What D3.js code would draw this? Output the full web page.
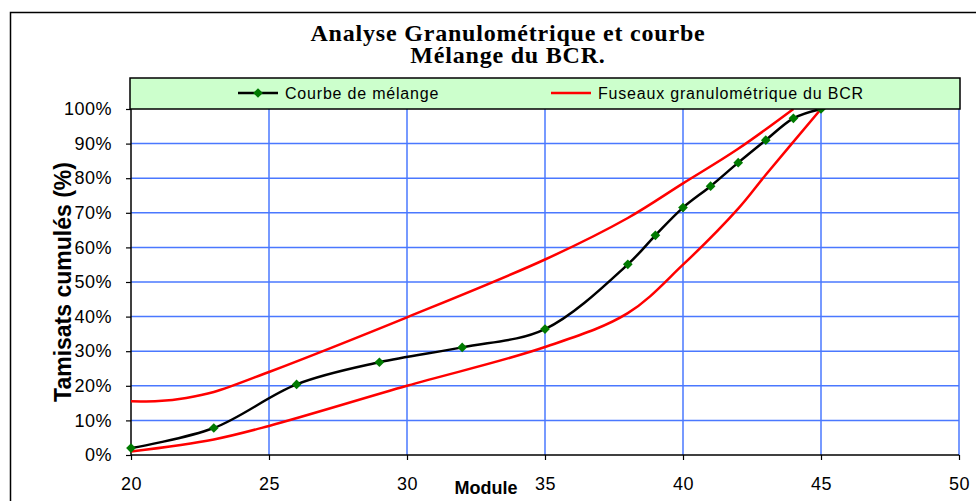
<!DOCTYPE html>
<html>
<head>
<meta charset="utf-8">
<script src="https://cdn.jsdelivr.net/npm/d3@7"></script>
<style>
  body { margin: 0; background: #fff; }
  svg { display: block; }
</style>
</head>
<body>
<div id="chart"></div>
<script>
// curve values (module, % passing)
const melangeX = [20, 23, 26, 29, 32, 35, 38, 39, 40, 41, 42, 43, 44, 45];
const melangeY = [0.02, 0.078, 0.204, 0.268, 0.311, 0.364, 0.551, 0.635, 0.715, 0.777, 0.845, 0.91, 0.973, 1.0];

const fuseauHautX = [20, 21, 22, 23, 25, 30, 35, 38, 40, 42, 44];
const fuseauHautY = [0.155, 0.156, 0.165, 0.182, 0.24, 0.398, 0.565, 0.685, 0.785, 0.885, 1.0];

const fuseauBasX = [20, 23, 25, 30, 35, 38, 40, 42, 43, 45];
const fuseauBasY = [0.01, 0.045, 0.084, 0.2, 0.312, 0.41, 0.55, 0.712, 0.81, 1.0];

const xTicks = [20, 25, 30, 35, 40, 45, 50];
const yTicks = [0, 0.1, 0.2, 0.3, 0.4, 0.5, 0.6, 0.7, 0.8, 0.9, 1.0];

const titleLines = ["Analyse Granulométrique et courbe", "Mélange du BCR."];
const legendLabels = ["Courbe de mélange", "Fuseaux granulométrique du BCR"];

const width = 976, height = 501;
const gridColor = "#4a78ff";

const svg = d3.select("#chart")
    .append("svg")
    .attr("width", width)
    .attr("height", height);

// outer chart frame
svg.append("rect")
    .attr("x", 10.5).attr("y", 12.5)
    .attr("width", 990).attr("height", 520)
    .attr("fill", "#fff")
    .attr("stroke", "#000")
    .attr("stroke-width", 1.5);

const x = d3.scaleLinear().domain([20, 50]).range([131, 959]);
const y = d3.scaleLinear().domain([0, 1]).range([455, 109]);

// grid
svg.append("g")
    .selectAll("line.h")
    .data(yTicks.filter(d => d > 0 && d < 1))
    .join("line")
    .attr("x1", x(20)).attr("x2", x(50))
    .attr("y1", d => y(d)).attr("y2", d => y(d))
    .attr("stroke", gridColor).attr("stroke-width", 1.5);

svg.append("g")
    .selectAll("line.v")
    .data(xTicks.filter(d => d > 20))
    .join("line")
    .attr("x1", d => x(d)).attr("x2", d => x(d))
    .attr("y1", y(1)).attr("y2", y(0))
    .attr("stroke", gridColor).attr("stroke-width", 1.5);

// axes
const yAxis = svg.append("g")
    .attr("transform", `translate(${x(20)},0)`)
    .call(d3.axisLeft(y).tickValues(yTicks).tickFormat(d3.format(".0%")).tickSize(5).tickPadding(14));

const xAxis = svg.append("g")
    .attr("transform", `translate(0,${y(0)})`)
    .call(d3.axisBottom(x).tickValues(xTicks).tickSize(5).tickPadding(17));

[yAxis, xAxis].forEach(a => {
    a.select(".domain").attr("stroke", "#000").attr("stroke-width", 1.5);
    a.selectAll(".tick line").attr("stroke", "#000").attr("stroke-width", 1.2);
    a.selectAll("text")
        .attr("fill", "#000")
        .style("font-family", "Arial, 'Liberation Sans', sans-serif")
        .style("font-size", "18px")
        .style("letter-spacing", "0.5px");
});
yAxis.select(".domain").attr("d", `M0,${y(0)}V${y(1)}`);
xAxis.select(".domain").attr("d", `M${x(20)},0H${x(50)}`);

// curves
const line = (xs, ys) => d3.line()
    .x((d, i) => x(xs[i]))
    .y((d, i) => y(ys[i]))
    .curve(d3.curveCatmullRom.alpha(0.5))(xs);

svg.append("path")
    .attr("d", line(fuseauHautX, fuseauHautY))
    .attr("fill", "none").attr("stroke", "#ff0000").attr("stroke-width", 2.5);

svg.append("path")
    .attr("d", line(fuseauBasX, fuseauBasY))
    .attr("fill", "none").attr("stroke", "#ff0000").attr("stroke-width", 2.5);

svg.append("path")
    .attr("d", line(melangeX, melangeY))
    .attr("fill", "none").attr("stroke", "#000").attr("stroke-width", 2.5);

const diamond = d3.symbol().type(d3.symbolDiamond2).size(60);

svg.append("g")
    .selectAll("path")
    .data(melangeX)
    .join("path")
    .attr("d", diamond)
    .attr("transform", (d, i) => `translate(${x(d)},${y(melangeY[i])})`)
    .attr("fill", "#007a00");

// legend
svg.append("rect")
    .attr("x", 130).attr("y", 78)
    .attr("width", 830).attr("height", 31)
    .attr("fill", "#ccffcc")
    .attr("stroke", "#000").attr("stroke-width", 1.5);

const legend = svg.append("g").attr("transform", "translate(0,93)");

legend.append("line")
    .attr("x1", 238).attr("x2", 278)
    .attr("stroke", "#000").attr("stroke-width", 2.5);
legend.append("path")
    .attr("d", diamond)
    .attr("transform", "translate(258,0)")
    .attr("fill", "#007a00");
legend.append("line")
    .attr("x1", 551).attr("x2", 591)
    .attr("stroke", "#ff0000").attr("stroke-width", 2.5);

legend.selectAll("text")
    .data(legendLabels)
    .join("text")
    .attr("x", (d, i) => i === 0 ? 285 : 598)
    .attr("y", 6)
    .style("font-family", "Arial, 'Liberation Sans', sans-serif")
    .style("font-size", "16px")
    .style("letter-spacing", "0.8px")
    .text(d => d);

// title
svg.append("g")
    .selectAll("text")
    .data(titleLines)
    .join("text")
    .attr("x", 508)
    .attr("y", (d, i) => 41 + i * 22)
    .attr("text-anchor", "middle")
    .style("font-family", "'Liberation Serif', 'Times New Roman', serif")
    .style("font-weight", "bold")
    .style("font-size", "24px")
    .style("letter-spacing", "0.8px")
    .text(d => d);

// axis titles
svg.append("text")
    .attr("transform", `translate(71,${(y(0) + y(1)) / 2}) rotate(-90)`)
    .attr("text-anchor", "middle")
    .style("font-family", "Arial, 'Liberation Sans', sans-serif")
    .style("font-weight", "bold")
    .style("font-size", "23px")
    .text("Tamisats cumulés (%)");

svg.append("text")
    .attr("x", 486)
    .attr("y", 494)
    .attr("text-anchor", "middle")
    .style("font-family", "Arial, 'Liberation Sans', sans-serif")
    .style("font-weight", "bold")
    .style("font-size", "18px")
    .text("Module");
</script>
</body>
</html>
